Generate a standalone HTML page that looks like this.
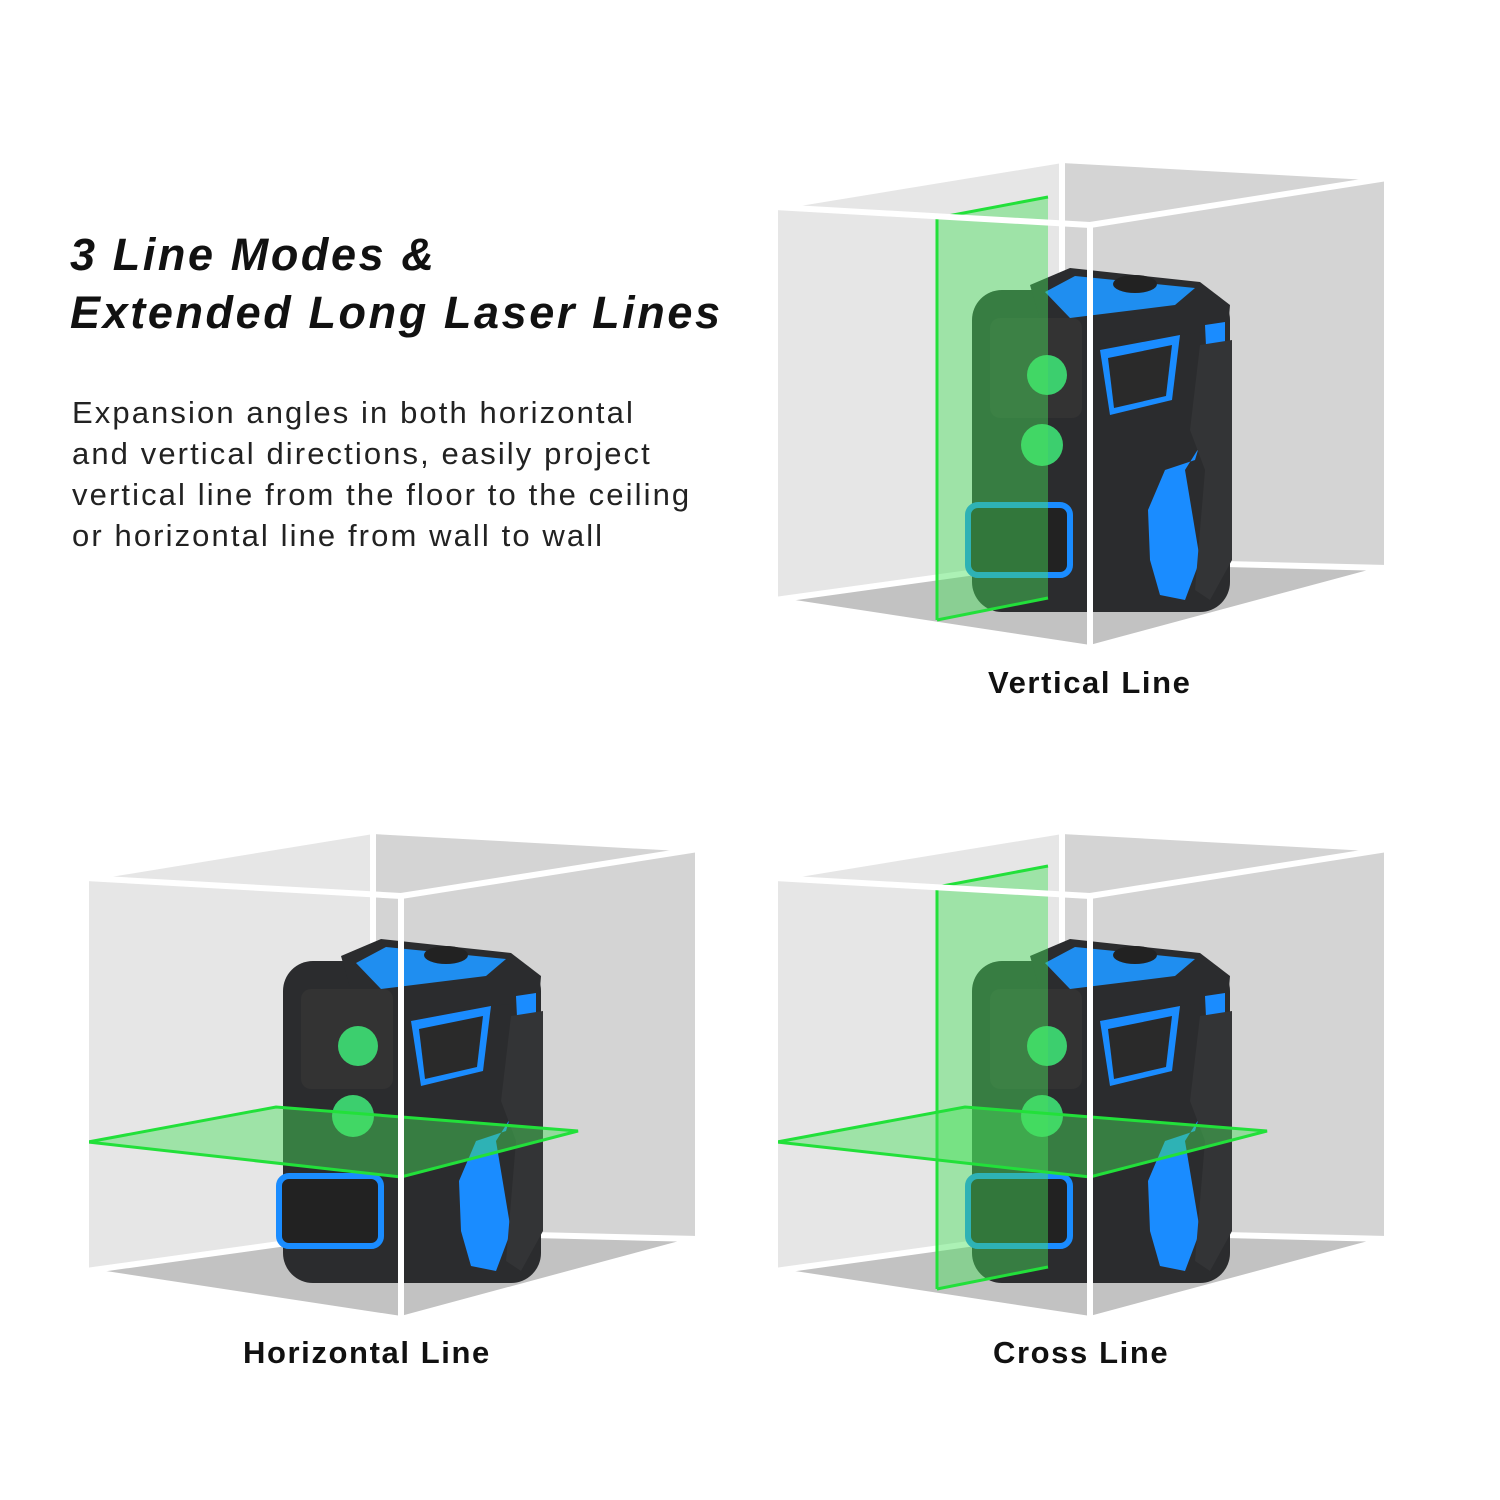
<!DOCTYPE html>
<html><head><meta charset="utf-8"><style>
html,body{margin:0;padding:0;background:#fff;width:1500px;height:1500px;overflow:hidden}
svg{position:absolute;left:0;top:0}
.t{position:absolute;font-family:"Liberation Sans",sans-serif;color:#111}
</style></head><body>
<svg width="1500" height="1500" viewBox="0 0 1500 1500">
<defs>
<g id="cubeback">
  <polygon points="775,207 1062,160 1062,560 775,600" fill="#e6e6e6"/>
  <polygon points="1062,160 1387,178 1387,568 1062,560" fill="#d4d4d4"/>
  <polygon points="775,600 1062,560 1387,568 1090,648" fill="#c2c2c2"/>
  <g stroke="#fff" stroke-width="6" fill="none">
    <polyline points="1062,160 1062,560"/>
    <polyline points="775,600 1062,560 1387,568"/>
  </g>
</g>
<g id="device">
  <rect x="972" y="290" width="258" height="322" rx="30" fill="#2b2c2e"/>
  <polygon points="1030,285 1070,268 1200,282 1230,305 1228,330 1085,345 1040,320" fill="#2b2c2e"/>
  <polygon points="1045,292 1075,276 1195,288 1175,305 1070,318" fill="#1f8ef0"/>
  <ellipse cx="1135" cy="284" rx="22" ry="9" fill="#222"/>
  <polygon points="1100,350 1180,335 1172,400 1110,415" fill="#1a8cff"/>
  <polygon points="1108,358 1172,345 1166,396 1114,408" fill="#2a2a2a"/>
  <polygon points="1205,325 1225,322 1225,360 1195,460 1165,470 1148,510 1150,560 1160,595 1185,600 1200,560 1185,470 1210,430" fill="#1a8cff"/>
  <polygon points="1200,345 1232,340 1232,560 1210,600 1195,590 1205,470 1190,430" fill="#333436"/>
  <rect x="990" y="318" width="92" height="100" rx="10" fill="#333"/>
  <circle cx="1047" cy="375" r="20" fill="#3ccf6e"/>
  <circle cx="1042" cy="445" r="21" fill="#3ccf6e"/>
  <rect x="968" y="505" width="102" height="70" rx="10" fill="#222" stroke="#1a8cff" stroke-width="6"/>
</g>
<g id="cubefront" stroke="#fff" stroke-width="6" fill="none" stroke-linejoin="round">
  <polygon points="775,207 1062,160 1387,178 1090,225"/>
  <polyline points="775,207 775,600 1090,648 1387,568 1387,178"/>
  <polyline points="1090,225 1090,648"/>
</g>
<g id="vplane">
  <polygon points="937,218 1048,197 1048,598 937,620" fill="rgba(70,225,90,0.45)"/>
  <polyline points="937,620 937,218 1048,197" fill="none" stroke="#22e03a" stroke-width="3"/>
  <polyline points="937,620 1048,598" fill="none" stroke="#22e03a" stroke-width="3"/>
</g>
<g id="hplane">
  <polygon points="777,1142 965,1107 1267,1131 1090,1177" fill="rgba(70,225,90,0.45)" stroke="#22e03a" stroke-width="3"/>
</g>
</defs>
<use href="#cubeback"/>
<use href="#device"/>
<use href="#vplane"/>
<use href="#cubefront"/>
<g transform="translate(-689,671)">
<use href="#cubeback"/>
<use href="#device"/>
</g>
<g transform="translate(-689,0)"><use href="#hplane"/></g>
<g transform="translate(-689,671)"><use href="#cubefront"/></g>
<g transform="translate(0,671)">
<use href="#cubeback"/>
<use href="#device"/>
<g transform="translate(0,-2)"><use href="#vplane"/></g>
</g>
<use href="#hplane"/>
<g transform="translate(0,671)"><use href="#cubefront"/></g>
</svg>
<div class="t" style="left:70px;top:226px;font-size:45px;font-weight:bold;font-style:italic;line-height:58px;letter-spacing:2.6px">3 Line Modes &amp;<br>Extended Long Laser Lines</div>
<div class="t" style="left:72px;top:392px;font-size:31px;line-height:41px;color:#222;letter-spacing:2.1px">Expansion angles in both horizontal<br>and vertical directions, easily project<br>vertical line from the floor to the ceiling<br>or horizontal line from wall to wall</div>
<div class="t" style="left:988px;top:665px;font-size:31px;font-weight:bold;letter-spacing:1.6px">Vertical Line</div>
<div class="t" style="left:243px;top:1335px;font-size:31px;font-weight:bold;letter-spacing:1.6px">Horizontal Line</div>
<div class="t" style="left:993px;top:1335px;font-size:31px;font-weight:bold;letter-spacing:1.6px">Cross Line</div>
</body></html>
